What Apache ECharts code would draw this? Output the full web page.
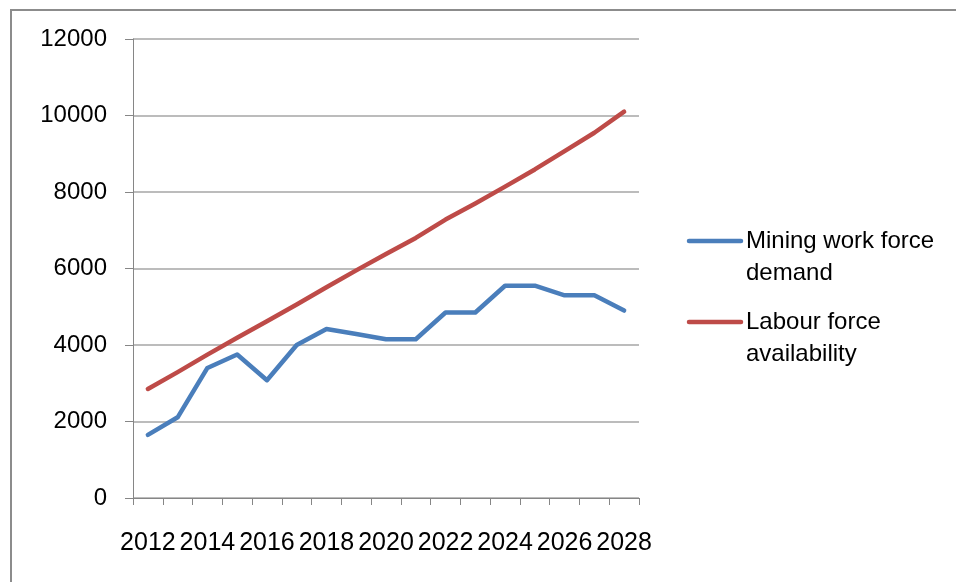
<!DOCTYPE html>
<html>
<head>
<meta charset="utf-8">
<script src="https://cdn.jsdelivr.net/npm/echarts@6/dist/echarts.min.js"></script>
<style>
html,body{margin:0;padding:0;background:#fff;}
#chart{width:956px;height:582px;}
</style>
</head>
<body>
<div id="chart"></div>
<script>
const years = ['2012','2013','2014','2015','2016','2017','2018','2019','2020','2021','2022','2023','2024','2025','2026','2027','2028'];
const miningDemand = [1650, 2110, 3400, 3750, 3080, 4000, 4420, 4290, 4150, 4150, 4850, 4850, 5550, 5550, 5300, 5300, 4900];
const labourAvailability = [2850, 3290, 3750, 4190, 4620, 5060, 5510, 5950, 6380, 6800, 7280, 7700, 8140, 8590, 9070, 9550, 10100];
const seriesNames = ['Mining work force\ndemand', 'Labour force\navailability'];
const seriesColors = ['#4a7ebb', '#be4b48'];

const FONT = 'Liberation Sans';
const chart = echarts.init(document.getElementById('chart'));
chart.setOption({
  animation: false,
  backgroundColor: '#fff',
  grid: { left: 133, top: 39, right: 317, bottom: 84, containLabel: false },
  xAxis: {
    type: 'category',
    data: years,
    boundaryGap: true,
    axisLine: { lineStyle: { color: '#868686', width: 1 } },
    axisTick: { show: true, interval: 0, length: 7, lineStyle: { color: '#868686' } },
    axisLabel: { interval: 1, margin: 33, color: '#000', fontFamily: FONT, fontSize: 25 },
    splitLine: { show: false }
  },
  yAxis: {
    type: 'value',
    min: 0, max: 12000, interval: 2000,
    axisLine: { show: true, lineStyle: { color: '#868686', width: 1 } },
    axisTick: { show: true, length: 8, lineStyle: { color: '#868686' } },
    axisLabel: { margin: 26, color: '#000', fontFamily: FONT, fontSize: 24, formatter: v => String(v) },
    splitLine: { show: true, lineStyle: { color: '#a6a6a6', width: 1.5 } }
  },
  series: [
    { name: seriesNames[0], type: 'line', data: miningDemand, symbol: 'none', smooth: false,
      lineStyle: { color: seriesColors[0], width: 4.5, cap: 'round', join: 'round' }, z: 3 },
    { name: seriesNames[1], type: 'line', data: labourAvailability, symbol: 'none', smooth: false,
      lineStyle: { color: seriesColors[1], width: 4.5, cap: 'round', join: 'round' }, z: 3 }
  ],
  graphic: [
    { type: 'rect', shape: { x: 11, y: 10, width: 1200, height: 1200 },
      style: { fill: 'none', stroke: '#8c8c8c', lineWidth: 2 }, silent: true },
    { type: 'line', shape: { x1: 689, y1: 241, x2: 741, y2: 241 },
      style: { stroke: seriesColors[0], lineWidth: 4.5, lineCap: 'round' } },
    { type: 'text', left: 746, top: 225,
      style: { text: seriesNames[0], font: '24px "' + FONT + '"', fill: '#000', lineHeight: 32 } },
    { type: 'line', shape: { x1: 689, y1: 322, x2: 741, y2: 322 },
      style: { stroke: seriesColors[1], lineWidth: 4.5, lineCap: 'round' } },
    { type: 'text', left: 746, top: 306,
      style: { text: seriesNames[1], font: '24px "' + FONT + '"', fill: '#000', lineHeight: 32 } }
  ]
});
</script>
</body>
</html>
